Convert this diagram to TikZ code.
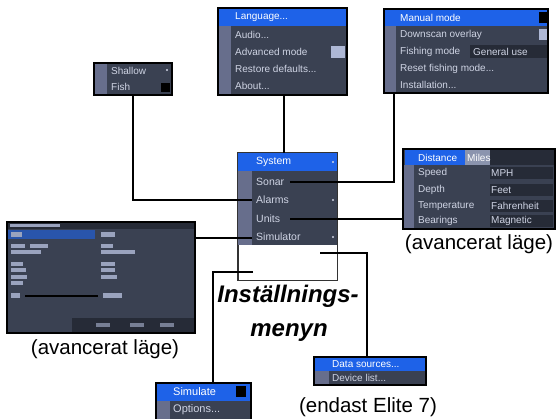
\documentclass[tikz,border=0pt]{standalone}
\usepackage{fontspec}
\setmainfont{Liberation Sans}
\definecolor{scrbg}{HTML}{3A4152}
\definecolor{scrdark}{HTML}{262B37}
\definecolor{scrstrip}{HTML}{676E8C}
\definecolor{hilite}{HTML}{1E62E8}
\definecolor{mtxt}{HTML}{CFD4E4}
\definecolor{chk}{HTML}{AEB8D6}
\definecolor{bar}{HTML}{9AA3BE}
\tikzset{
  scr/.style={draw=black, line width=1.3pt, fill=scrbg, inner sep=0pt, outer sep=0pt},
  conn/.style={draw=black, line width=2pt},
  mi/.style={anchor=west, inner sep=0pt, text=mtxt, font=\fontsize{10}{11}\selectfont},
  mib/.style={mi, font=\fontsize{11}{12}\selectfont},
  captxt/.style={inner sep=0pt, font=\fontsize{20.5}{22}\selectfont},
  ttl/.style={inner sep=0pt, anchor=base, font=\bfseries\itshape\fontsize{24}{28}\selectfont},
}
\begin{document}
\begin{tikzpicture}[x=1pt,y=-1pt]
\useasboundingbox[fill=white] (0,0) rectangle (560,419);

% ---------- Language box ----------
\node[scr, minimum width=129pt, minimum height=87pt] (lang) at (282.5,51.5) {};
\fill[hilite] (218.7,8.7) rectangle (346.3,26);
\fill[scrstrip] (218.7,26) rectangle (231,94.3);
\node[mi, text=white] at (235,17.5) {Language...};
\node[mi] at (235,34.5) {Audio...};
\node[mi] at (235,51.5) {Advanced mode};
\fill[chk] (331,46) rectangle (345,58);
\node[mi] at (235,68.5) {Restore defaults...};
\node[mi] at (235,85.5) {About...};

% ---------- Manual mode box ----------
\node[scr, minimum width=164pt, minimum height=84pt] (manual) at (466,51) {};
\fill[hilite] (384.7,9.7) rectangle (547.3,26);
\fill[scrstrip] (384.7,26) rectangle (396,92.3);
\node[mi, text=white] at (400,17.5) {Manual mode};
\fill[black] (539,12) rectangle (547,23);
\node[mi] at (400,34.5) {Downscan overlay};
\fill[chk] (539,29) rectangle (547,40);
\node[mi] at (400,51.5) {Fishing mode};
\fill[scrdark] (470,45) rectangle (547,58);
\node[mi] at (473,51.5) {General use};
\node[mi] at (400,68.5) {Reset fishing mode...};
\node[mi] at (400,85) {Installation...};

% ---------- Shallow / Fish box ----------
\node[scr, minimum width=78pt, minimum height=32pt] (shallow) at (133,79) {};
\fill[scrstrip] (94.7,63.7) rectangle (107,94.3);
\node[mi] at (111,71) {Shallow};
\fill[mtxt] (167,70) circle (1.2);
\node[mi] at (111,87) {Fish};
\fill[black] (161,83) rectangle (170,92);

% ---------- Units box ----------
\node[scr, minimum width=152pt, minimum height=80pt] (units) at (479,189) {};
\fill[hilite] (405,150.5) rectangle (465,165);
\fill[chk!70!scrbg] (465,150.5) rectangle (490,165);
\fill[scrdark] (490,150.5) rectangle (554.3,165);
\node[mi, text=white] at (418,158) {Distance};
\node[mi, text=white] at (467,158) {Miles};
\fill[scrstrip] (403.7,165) rectangle (414,228.3);
\foreach \y/\a/\b in {173/Speed/MPH, 190/Depth/Feet, 206/Temperature/Fahrenheit, 221/Bearings/Magnetic}{
  \fill[scrdark] (490,\y-6) rectangle (553,\y+6);
  \node[mi] at (418,\y) {\a};
  \node[mi] at (491,\y) {\b};
}
\node[captxt] (cap1) at (479,244) {(avancerat läge)};

% ---------- Big advanced screen ----------
\node[scr, minimum width=188pt, minimum height=111pt] (big) at (101,277.5) {};
\fill[scrdark] (7.7,222.7) rectangle (194.3,229);
\fill[bar] (10,224) rectangle (60,227);
\fill[hilite!60!scrbg] (8,230) rectangle (95,239);
\fill[bar] (11,232) rectangle (22,237);
\fill[bar] (101,232) rectangle (115,237);
\foreach \y/\w in {244/14,250/30,262/12,268/15,275/16,281/12}{
  \fill[bar] (11,\y) rectangle (11+\w,\y+4);
}
\fill[bar] (30,244) rectangle (48,248);
\foreach \y/\w in {244/12,250/34,262/14,268/14,275/16}{
  \fill[bar] (101,\y) rectangle (101+\w,\y+4);
}
\draw[black, line width=2pt] (25,296) -- (98,296);
\fill[bar] (11,293) rectangle (20,298);
\fill[bar] (103,293) rectangle (122,298);
\fill[scrdark] (72,318) rectangle (194.3,332.3);
\foreach \x in {96,130,160}{ \fill[bar!70!scrdark] (\x,323) rectangle (\x+14,327); }
\node[captxt] (cap2) at (105,349) {(avancerat läge)};

% ---------- Central settings menu ----------
\node[draw=black!80, line width=0.9pt, minimum width=99pt, minimum height=127pt, inner sep=0pt] (cbox) at (287.5,216.5) {};
\fill[scrbg] (238,153) rectangle (337,245);
\fill[hilite] (238,153) rectangle (337,171);
\fill[scrstrip] (238,171) rectangle (252,245);
\draw[black!80, line width=0.9pt] (cbox.north west) rectangle (cbox.south east);
\node[mi, text=white, font=\fontsize{10.5}{12}\selectfont] (mSystem) at (256,162) {System};
\node[mi, font=\fontsize{10.5}{12}\selectfont] (mSonar) at (256,182) {Sonar};
\node[mi, font=\fontsize{10.5}{12}\selectfont] (mAlarms) at (256,200) {Alarms};
\node[mi, font=\fontsize{10.5}{12}\selectfont] (mUnits) at (256,219) {Units};
\node[mi, font=\fontsize{10.5}{12}\selectfont] (mSim) at (256,237) {Simulator};
\foreach \y in {162,182,200,219,237}{ \fill[mtxt] (333,\y) circle (1.1); }

\coordinate (sonarEnd) at (290,182);
\coordinate (alarmsEnd) at (252,200);
\coordinate (unitsEnd) at (290,219);
\coordinate (simEnd) at (252,238);
\coordinate (simStart) at (253,272);
\coordinate (dataStart) at (320,253);

\node[ttl] (t1) at (288,303) {Inställnings-};
\node[ttl] (t2) at (289,337) {menyn};

% ---------- Simulate box (cut off at bottom) ----------
\node[fill=scrbg, minimum width=95pt, minimum height=36pt, inner sep=0pt, outer sep=0pt] (sim) at (203.5,401) {};
\fill[hilite] (156,383) rectangle (251,401);
\fill[scrstrip] (156,401) rectangle (170,419);
\draw[black, line width=1.3pt] (156,419) -- (156,383) -- (251,383) -- (251,419);
\node[mib, text=white] at (173,392) {Simulate};
\fill[black] (236,386) rectangle (246,397);
\node[mib] at (173,410) {Options...};

% ---------- Data sources box ----------
\node[scr, minimum width=112pt, minimum height=28pt] (data) at (370,371) {};
\fill[hilite] (314.7,357.7) rectangle (425.3,371);
\fill[scrstrip] (314.7,371) rectangle (329,384.3);
\node[mi, text=white] at (332,364.5) {Data sources...};
\node[mi] at (332,378) {Device list...};
\node[captxt] (cap3) at (368,407) {(endast Elite 7)};

% ---------- Connectors ----------
\draw[conn] ([xshift=1.5pt]lang.south) -- ([xshift=1.5pt]lang.south |- cbox.north);
\draw[conn] (sonarEnd) -| ([xshift=10pt]manual.south west);
\draw[conn] (alarmsEnd) -| ([xshift=39pt]shallow.south west);
\draw[conn] (unitsEnd) -- (units.west |- unitsEnd);
\draw[conn] (simEnd) -- (big.east |- simEnd);
\draw[conn] (simStart) -| ([xshift=57pt]sim.north west);
\draw[conn] (dataStart) -| ([xshift=53pt]data.north west);
\end{tikzpicture}
\end{document}
